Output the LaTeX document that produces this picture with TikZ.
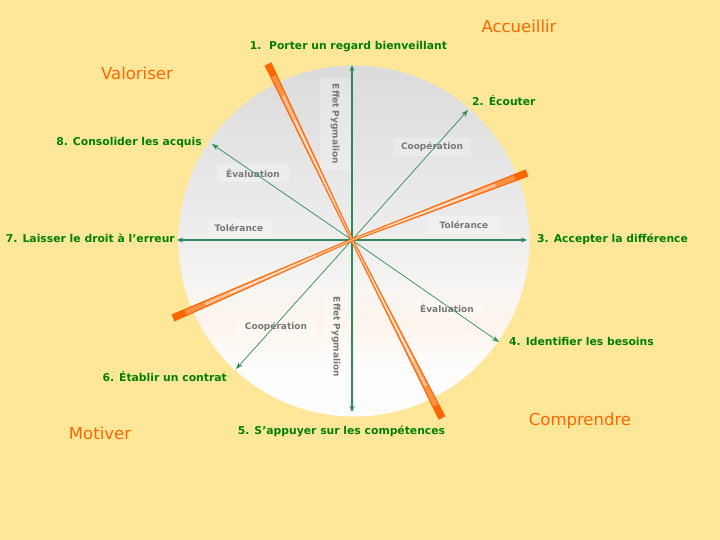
\documentclass[tikz,border=0pt]{standalone}
\usepackage{fontspec}
\setmainfont{DejaVu Sans}
\usetikzlibrary{calc,arrows.meta}
\definecolor{bgyellow}{RGB}{255,231,154}
\definecolor{lblgreen}{RGB}{0,128,0}
\definecolor{lnggreen}{RGB}{46,139,87}
\definecolor{catorange}{RGB}{255,102,0}
\definecolor{barorange}{RGB}{255,102,0}
\definecolor{graytxt}{RGB}{120,120,120}
\definecolor{sA}{RGB}{253,253,253}
\definecolor{sB}{RGB}{254,245,236}
\definecolor{sC}{RGB}{247,245,243}
\definecolor{sD}{RGB}{238,238,238}
\definecolor{sE}{RGB}{219,219,219}
\pgfdeclareverticalshading{discshade}{100bp}{color(0bp)=(sA); color(25bp)=(sA); color(32bp)=(sA); color(38bp)=(sB); color(44bp)=(sC); color(50bp)=(sD); color(75bp)=(sE); color(100bp)=(sE)}
\tikzset{
  greenlbl/.style={text=lblgreen, font=\bfseries\fontsize{10.8}{12}\selectfont, inner sep=0pt},
  catlbl/.style={text=catorange, font=\fontsize{16.5}{19}\selectfont, inner sep=0pt},
  graylbl/.style={text=graytxt, font=\bfseries\fontsize{9}{10}\selectfont, fill=white, fill opacity=0.25, text opacity=1, inner sep=0pt},
  axisln/.style={draw=lnggreen, line width=1.2pt, -{Stealth[length=6pt,width=5pt]}},
  diagln/.style={draw=lnggreen, line width=0.7pt, -{Stealth[length=7pt,width=5pt]}},
}
% #1 start, #2 end, #3 t0, #4 t1, #5 half width at t0, #6 half width at t1, #7 colour
\newcommand{\barpoly}[7]{%
  \fill[#7] ($($(#1)!#3!(#2)$)!#5!90:(#2)$) -- ($($(#1)!#4!(#2)$)!#6!-90:(#1)$) -- ($($(#1)!#4!(#2)$)!#6!90:(#1)$) -- ($($(#1)!#3!(#2)$)!#5!-90:(#2)$) -- cycle;}
\newcommand{\halfbar}[2]{%
  \barpoly{#1}{#2}{0}{1}{1.5pt}{3.8pt}{barorange}%
  \barpoly{#1}{#2}{0}{0.93}{0.75pt}{2.4pt}{barorange!72!white}%
  \barpoly{#1}{#2}{0}{0.82}{0.45pt}{1.4pt}{barorange!42!white}%
  \barpoly{#1}{#2}{0.2}{0.68}{0.35pt}{0.8pt}{barorange!15!white}%
}
\begin{document}
\begin{tikzpicture}[x=1pt,y=-1pt]
\useasboundingbox (0,0) rectangle (720,540);
\fill[bgyellow] (0,0) rectangle (720,540);
% disc
\shade[shading=discshade] (354,241) circle[radius=175.5];
% coordinates
\coordinate (C) at (352,240);
\coordinate (eN) at (352,65);
\coordinate (eS) at (352,412);
\coordinate (eW) at (177,240);
\coordinate (eE) at (527,240);
\coordinate (eNE) at (468,110);
\coordinate (eSE) at (499,342);
\coordinate (eSW) at (236,369);
\coordinate (eNW) at (212,144);
% gray labels (boxes)
\node[graylbl, rotate=-90, minimum width=92pt, minimum height=30pt] (pyg1) at (335,124) {Effet Pygmalion};
\node[graylbl, rotate=-90, minimum width=87pt, minimum height=24pt] (pyg2) at (336,337) {Effet Pygmalion};
\node[graylbl, minimum width=78pt, minimum height=18pt] (coop1) at (432,147) {Coopération};
\node[graylbl, minimum width=80pt, minimum height=24pt] (coop2) at (276,327) {Coopération};
\node[graylbl, minimum width=72pt, minimum height=19pt] (eval1) at (253,173) {Évaluation};
\node[graylbl, minimum width=72pt, minimum height=19pt] (eval2) at (447,308) {Évaluation};
\node[graylbl, minimum width=65pt, minimum height=18pt] (tol1) at (239,228) {Tolérance};
\node[graylbl, minimum width=74pt, minimum height=17pt] (tol2) at (464,225) {Tolérance};
% connectors
\draw[axisln] (C) -- (eN);
\draw[axisln] (C) -- (eS);
\draw[axisln] (C) -- (eW);
\draw[axisln] (C) -- (eE);
\draw[diagln] (C) -- (eNE);
\draw[diagln] (C) -- (eSE);
\draw[diagln] (C) -- (eSW);
\draw[diagln] (C) -- (eNW);
% orange bars
\coordinate (bA1) at (268,64);
\coordinate (bA2) at (442,418);
\coordinate (bB1) at (173,318);
\coordinate (bB2) at (527,173);
\halfbar{C}{bA1}
\halfbar{C}{bA2}
\halfbar{C}{bB1}
\halfbar{C}{bB2}
% green labels
\node[greenlbl] (l1) at (348.5,47) {1.\ \ Porter un regard bienveillant};
\node[greenlbl, anchor=west] (l2) at (472,101) {2. Écouter};
\node[greenlbl, anchor=west] (l3) at (537,239) {3. Accepter la différence};
\node[greenlbl, anchor=west] (l4) at (509,341) {4. Identifier les besoins};
\node[greenlbl] (l5) at (341.5,431) {5. S’appuyer sur les compétences};
\node[greenlbl, anchor=east] (l6) at (227,377) {6. Établir un contrat};
\node[greenlbl, anchor=east] (l7) at (175,238) {7. Laisser le droit à l’erreur};
\node[greenlbl, anchor=east] (l8) at (202,143) {8. Consolider les acquis};
% category labels
\node[catlbl] (acc) at (519,26) {Accueillir};
\node[catlbl] (val) at (137,73) {Valoriser};
\node[catlbl] (mot) at (100,433) {Motiver};
\node[catlbl] (comp) at (580,421) {Comprendre};
\end{tikzpicture}
\end{document}
